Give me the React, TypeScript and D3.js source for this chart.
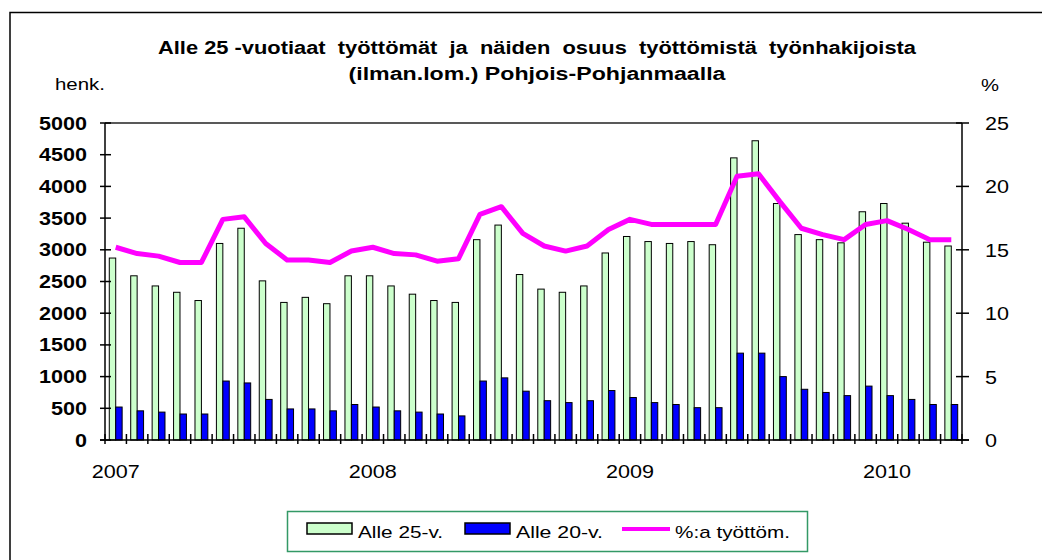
import * as React from "react";
import * as d3 from "d3";

// kuukaudet 2007-01 ... 2010-04
const months: Date[] = d3.timeMonths(new Date(2007, 0, 1), new Date(2010, 4, 1));

const alle25: number[] = [
  2870, 2590, 2430, 2330, 2200, 3100, 3340, 2510, 2170, 2250, 2150, 2590,
  2590, 2430, 2300, 2200, 2170, 3160, 3390, 2610, 2380, 2330, 2430, 2950,
  3210, 3130, 3100, 3130, 3080, 4450, 4720, 3730, 3240, 3160, 3110, 3600,
  3730, 3420, 3120, 3060,
];

const alle20: number[] = [
  520, 460, 440, 410, 410, 930, 900, 640, 490, 490, 460, 560,
  520, 460, 440, 410, 380, 930, 980, 770, 620, 590, 620, 780,
  670, 590, 560, 510, 510, 1370, 1370, 1000, 800, 750, 700, 850,
  700, 640, 560, 560,
];

const osuus: number[] = [
  15.2, 14.7, 14.5, 14.0, 14.0, 17.4, 17.6, 15.5, 14.2, 14.2, 14.0, 14.9,
  15.2, 14.7, 14.6, 14.1, 14.3, 17.8, 18.4, 16.3, 15.3, 14.9, 15.3, 16.6,
  17.4, 17.0, 17.0, 17.0, 17.0, 20.8, 21.0, 18.8, 16.7, 16.2, 15.8, 17.0,
  17.3, 16.6, 15.8, 15.8,
];

const leftTicks: number[] = [0, 500, 1000, 1500, 2000, 2500, 3000, 3500, 4000, 4500, 5000];
const rightTicks: number[] = [0, 5, 10, 15, 20, 25];
const yearLabels: string[] = ["2007", "2008", "2009", "2010"];

const titleLines = [
  "Alle 25 -vuotiaat  työttömät  ja  näiden  osuus  työttömistä  työnhakijoista",
  "(ilman.lom.) Pohjois-Pohjanmaalla",
];

const FONT = '"Liberation Sans", Arial, sans-serif';

export default function App() {
  const width = 1042;
  const height = 560;
  const left = 105;
  const right = 962;
  const top = 123;
  const bottom = 440;

  const keys = months.map((_, i) => String(i));
  const x = d3.scaleBand<string>().domain(keys).range([left, right]).paddingInner(0.4).paddingOuter(0.2);
  const sub = d3.scaleBand<string>().domain(["a25", "a20"]).range([0, x.bandwidth()]);
  const step = x.step();
  const y = d3.scaleLinear().domain([0, 5000]).range([bottom, top]);
  const y2 = d3.scaleLinear().domain([0, 25]).range([bottom, top]);

  const line = d3
    .line<number>()
    .x((_, i) => x(keys[i])! + x.bandwidth() / 2)
    .y((d) => y2(d));

  const catEdges = d3.range(months.length + 1).map((i) => left + i * step);

  return (
    <svg width={width} height={height} style={{ position: "absolute", left: 0, top: 0 }} fontFamily={FONT}>
      <rect x={0} y={0} width={width} height={height} fill="#fff" />
      <rect x={10} y={12.5} width={width + 20} height={height + 20} fill="none" stroke="#000" strokeWidth={1.5} />

      {/* otsikko */}
      <text x={537} y={54} textAnchor="middle" fontWeight="bold" fontSize={17.5} textLength={758}
        lengthAdjust="spacingAndGlyphs" style={{ whiteSpace: "pre" }}>{titleLines[0]}</text>
      <text x={537} y={80} textAnchor="middle" fontWeight="bold" fontSize={17.5} textLength={377}
        lengthAdjust="spacingAndGlyphs">{titleLines[1]}</text>
      <text x={55} y={90} fontSize={17} textLength={50} lengthAdjust="spacingAndGlyphs">henk.</text>
      <text x={981} y={91} fontSize={17} textLength={18} lengthAdjust="spacingAndGlyphs">%</text>

      {/* plot area frame top */}
      <line x1={left} x2={right} y1={top} y2={top} stroke="#222" strokeWidth={1.5} />

      {/* pylväät */}
      <g stroke="#000" strokeWidth={1}>
        {alle25.map((v, i) => (
          <rect key={"g" + i} x={x(keys[i])! + sub("a25")!} y={y(v)} width={sub.bandwidth()}
            height={bottom - y(v)} fill="#CCFFCC" />
        ))}
        {alle20.map((v, i) => (
          <rect key={"b" + i} x={x(keys[i])! + sub("a20")!} y={y(v)} width={sub.bandwidth()}
            height={bottom - y(v)} fill="#0000FF" />
        ))}
      </g>

      {/* akselit */}
      <g stroke="#000" strokeWidth={1.5}>
        <line x1={left} x2={left} y1={top} y2={bottom} />
        <line x1={right} x2={right} y1={top} y2={bottom} />
        <line x1={left - 5} x2={right + 7} y1={bottom} y2={bottom} />
        {leftTicks.map((t) => (
          <line key={"lt" + t} x1={left - 5} x2={left + 6} y1={y(t)} y2={y(t)} />
        ))}
        {rightTicks.map((t) => (
          <line key={"rt" + t} x1={right - 6} x2={right + 7} y1={y2(t)} y2={y2(t)} />
        ))}
        {catEdges.map((cx, i) => (
          <line key={"ct" + i} x1={cx} x2={cx} y1={bottom - 6} y2={bottom + 4} />
        ))}
      </g>

      {/* viiva */}
      <path d={line(osuus)!} fill="none" stroke="#FF00FF" strokeWidth={5} strokeLinejoin="round" />

      {/* tikkien tekstit */}
      {leftTicks.map((t) => (
        <text key={"ll" + t} x={87} y={y(t) + 6.5} textAnchor="end" fontWeight="bold" fontSize={18}
          textLength={String(t).length * 12} lengthAdjust="spacingAndGlyphs">{t}</text>
      ))}
      {rightTicks.map((t) => (
        <text key={"rl" + t} x={985} y={y2(t) + 7} fontSize={18}
          textLength={String(t).length * 12} lengthAdjust="spacingAndGlyphs">{t}</text>
      ))}
      {yearLabels.map((yr, i) => (
        <text key={yr} x={x(keys[i * 12])! + x.bandwidth() / 2} y={478} textAnchor="middle" fontSize={19}
          textLength={48} lengthAdjust="spacingAndGlyphs">{yr}</text>
      ))}

      {/* selite */}
      <rect x={287.5} y={511.5} width={520} height={40} fill="#fff" stroke="#339966" strokeWidth={1.5} />
      <rect x={307} y={523} width={45} height={11} fill="#CCFFCC" stroke="#000" strokeWidth={1.5} />
      <text x={358} y={538} fontSize={17} textLength={85} lengthAdjust="spacingAndGlyphs">Alle 25-v.</text>
      <rect x={465} y={523} width={45} height={11} fill="#0000FF" stroke="#000" strokeWidth={1.5} />
      <text x={516} y={538} fontSize={17} textLength={87} lengthAdjust="spacingAndGlyphs">Alle 20-v.</text>
      <line x1={622} x2={670} y1={529} y2={529} stroke="#FF00FF" strokeWidth={4} />
      <text x={675} y={538} fontSize={17} textLength={115} lengthAdjust="spacingAndGlyphs">%:a työttöm.</text>
    </svg>
  );
}
